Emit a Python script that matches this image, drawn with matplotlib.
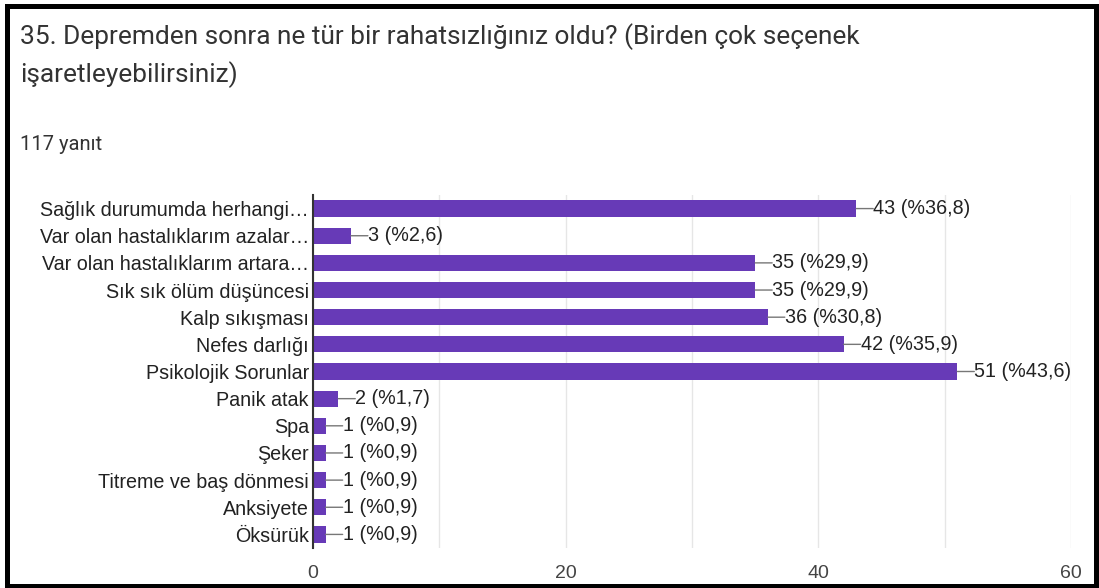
import matplotlib
matplotlib.use("Agg")
import matplotlib.pyplot as plt
from matplotlib.patches import Rectangle

# data
labels = ["Sağlık durumumda herhangi…", "Var olan hastalıklarım azalar…",
          "Var olan hastalıklarım artara…", "Sık sık ölüm düşüncesi",
          "Kalp sıkışması", "Nefes darlığı", "Psikolojik Sorunlar",
          "Panik atak", "Spa", "Şeker", "Titreme ve baş dönmesi",
          "Anksiyete", "Öksürük"]
counts = [43, 3, 35, 35, 36, 42, 51, 2, 1, 1, 1, 1, 1]
percents = ["36,8", "2,6", "29,9", "29,9", "30,8", "35,9", "43,6",
            "1,7", "0,9", "0,9", "0,9", "0,9", "0,9"]
xticks = [0, 20, 40, 60]

purple = "#673ab7"
textcol = "#333333"

fig = plt.figure(figsize=(10.99, 5.88), dpi=100)
W, H = 1099, 588

fig.text(20/W, 1 - 44/H, "35. Depremden sonra ne tür bir rahatsızlığınız oldu? (Birden çok seçenek",
         fontsize=18.9, family="Roboto", color=textcol, va="baseline")
fig.text(20/W, 1 - 82/H, "işaretleyebilirsiniz)",
         fontsize=18.9, family="Roboto", color=textcol, va="baseline")
fig.text(20/W, 1 - 150/H, "117 yanıt", fontsize=14.5, family="Roboto",
         color=textcol, va="baseline")

ax = fig.add_axes([313/W, 1 - 548/H, (1071 - 313)/W, (548 - 195)/H])
y = list(range(len(labels)))
ax.barh(y, counts, height=0.6, color=purple, zorder=3)
ax.set_xlim(0, 60)
ax.set_ylim(len(labels) - 0.5, -0.5)
ax.set_xticks(xticks, labels=[str(v) for v in xticks])
ax.set_xticks(range(0, 61, 10), minor=True)
ax.grid(axis="x", which="both", color="#e6e6e6", linewidth=1, zorder=0)
ax.set_yticks(y, labels=labels)
ax.tick_params(axis="y", length=0, pad=3, labelsize=14.2, labelcolor="#222222")
ax.tick_params(axis="x", which="both", length=0, pad=12, labelsize=14, labelcolor="#444444")
for lab in ax.get_yticklabels() + ax.get_xticklabels():
    lab.set_family("Liberation Sans")
for s in ["top", "right", "bottom"]:
    ax.spines[s].set_visible(False)
ax.spines["left"].set_color("#333333")
ax.spines["left"].set_linewidth(1.5)
ax.spines["left"].set_zorder(4)

for i, (c, p) in enumerate(zip(counts, percents)):
    ax.annotate("", xy=(c, i), xytext=(17, 0), textcoords="offset pixels",
                arrowprops=dict(arrowstyle="-", color="#777777", lw=1, shrinkA=0, shrinkB=0))
    ax.annotate(f"{c} (%{p})", xy=(c, i), xytext=(17, 0), textcoords="offset pixels",
                va="center", ha="left", fontsize=14.2, family="Liberation Sans", color="#222222")

fig.patches.append(Rectangle((6.5/W, 2.5/H), 1089/W, 580/H, transform=fig.transFigure,
                             fill=False, edgecolor="black", linewidth=3.6))

fig.savefig("out.png", dpi=100)
